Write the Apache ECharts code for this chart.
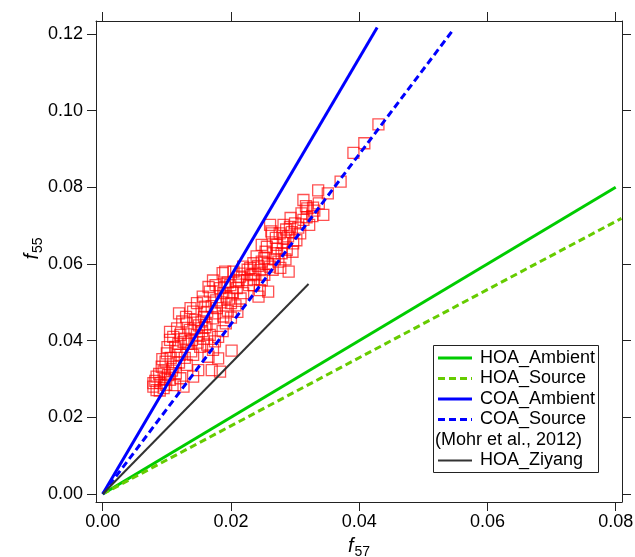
<!DOCTYPE html>
<html>
<head>
<meta charset="utf-8">
<title>f55 vs f57</title>
<script src="https://cdn.jsdelivr.net/npm/echarts@6/dist/echarts.min.js"></script>
<style>
    html, body { margin: 0; padding: 0; background: #fff; }
    #main { width: 635px; height: 557px; }
</style>
</head>
<body>
<div id="main"></div>
<script>
// ******************* data *******************
// measured points, [f57, f55]
var ziyangPoints = [
    [0.0430,0.0964],[0.0408,0.0915],[0.0391,0.0890],[0.0371,0.0815],[0.0336,0.0792],[0.0351,0.0784],
    [0.0313,0.0767],[0.0317,0.0751],[0.0328,0.0747],[0.0319,0.0745],[0.0330,0.0739],[0.0344,0.0728],
    [0.0310,0.0732],[0.0322,0.0702],[0.0313,0.0715],[0.0300,0.0706],[0.0282,0.0702],[0.0292,0.0697],
    [0.0295,0.0683],[0.0308,0.0680],[0.0276,0.0680],[0.0264,0.0680],[0.0283,0.0667],[0.0297,0.0654],
    [0.0271,0.0650],[0.0256,0.0645],[0.0248,0.0650],[0.0287,0.0637],[0.0279,0.0628],[0.0266,0.0628],
    [0.0248,0.0606],[0.0235,0.0602],[0.0230,0.0589],[0.0245,0.0584],[0.0261,0.0593],[0.0274,0.0606],
    [0.0290,0.0580],[0.0219,0.0593],[0.0204,0.0580],[0.0191,0.0580],[0.0214,0.0567],[0.0225,0.0558],
    [0.0232,0.0571],[0.0235,0.0545],[0.0248,0.0558],[0.0258,0.0528],[0.0245,0.0532],[0.0199,0.0545],
    [0.0209,0.0537],[0.0219,0.0524],[0.0188,0.0524],[0.0261,0.0702],
    [0.0172,0.0557],[0.0187,0.0576],[0.0183,0.0537],[0.0167,0.0528],[0.0193,0.0515],[0.0157,0.0502],
    [0.0160,0.0489],[0.0119,0.0471],[0.0141,0.0476],[0.0175,0.0471],[0.0188,0.0463],[0.0144,0.0454],
    [0.0154,0.0450],[0.0131,0.0445],[0.0136,0.0428],[0.0105,0.0423],[0.0121,0.0415],[0.0147,0.0415],
    [0.0167,0.0415],[0.0180,0.0410],[0.0105,0.0402],[0.0126,0.0397],[0.0113,0.0384],[0.0152,0.0384],
    [0.0172,0.0376],[0.0100,0.0367],[0.0121,0.0363],[0.0141,0.0363],[0.0165,0.0358],[0.0180,0.0354],
    [0.0092,0.0332],[0.0110,0.0332],[0.0131,0.0337],[0.0149,0.0323],[0.0170,0.0323],[0.0084,0.0306],
    [0.0102,0.0310],[0.0121,0.0302],[0.0141,0.0306],[0.0079,0.0280],[0.0095,0.0276],[0.0113,0.0284],
    [0.0183,0.0319],[0.0126,0.0280],
    [0.0263,0.0685],[0.0212,0.0558],[0.0195,0.0552],[0.0243,0.0515],[0.0200,0.0498],[0.0079,0.0289],
    [0.0084,0.0271],[0.0201,0.0374],
    [0.0098,0.0345],[0.0106,0.0355],[0.0115,0.0372],[0.0118,0.0392],[0.0128,0.0405],[0.0133,0.0392],
    [0.0139,0.0402],[0.0143,0.0432],[0.0150,0.0440],[0.0158,0.0462],[0.0163,0.0475],[0.0170,0.0490],
    [0.0177,0.0505],[0.0185,0.0500],[0.0178,0.0485],[0.0162,0.0442],[0.0155,0.0425],[0.0148,0.0395],
    [0.0138,0.0372],[0.0128,0.0355],[0.0119,0.0343],[0.0108,0.0322],[0.0097,0.0300],[0.0090,0.0290],
    [0.0088,0.0313],[0.0093,0.0352],[0.0101,0.0383],[0.0110,0.0410],[0.0116,0.0432],[0.0124,0.0450],
    [0.0130,0.0462],[0.0137,0.0485],[0.0147,0.0498],[0.0156,0.0515],[0.0165,0.0540],[0.0176,0.0545],
    [0.0190,0.0540],[0.0203,0.0525],[0.0197,0.0510],[0.0208,0.0555],[0.0217,0.0575],[0.0226,0.0585],
    [0.0238,0.0575],[0.0228,0.0545],[0.0215,0.0510],[0.0207,0.0492],[0.0195,0.0478],[0.0172,0.0458],
    [0.0160,0.0435],[0.0157,0.0405],[0.0163,0.0390],[0.0175,0.0398],[0.0187,0.0425],[0.0192,0.0445],
    [0.0200,0.0460],[0.0210,0.0475],
    [0.0240,0.0620],[0.0252,0.0615],[0.0258,0.0600],[0.0268,0.0612],[0.0272,0.0640],[0.0281,0.0655],
    [0.0289,0.0672],[0.0270,0.0668],[0.0254,0.0632],[0.0242,0.0595],[0.0236,0.0560],[0.0252,0.0572],
    [0.0265,0.0585],[0.0277,0.0590],[0.0285,0.0612],[0.0296,0.0632],[0.0302,0.0662],[0.0305,0.0695],
    [0.0318,0.0722],[0.0327,0.0725],[0.0337,0.0758],[0.0293,0.0720],[0.0286,0.0690],
    [0.0082,0.0295],[0.0089,0.0270],[0.0099,0.0285],[0.0105,0.0298],[0.0114,0.0315],[0.0095,0.0320]
];

// reference lines, end points from origin
var hoaAmbient = [[0, 0], [0.08, 0.080]];
var hoaSource  = [[0, 0], [0.0809, 0.0719]];
var coaAmbient = [[0, 0], [0.0428, 0.1217]];
var coaSource  = [[0, 0], [0.0547, 0.1212]];
var hoaZiyang  = [[0, 0], [0.0321, 0.0548]];

// ticks / labels
var xTicks = [0, 0.02, 0.04, 0.06, 0.08];
var yTicks = [0, 0.02, 0.04, 0.06, 0.08, 0.10, 0.12];

// legend rows
var legendNames = ['HOA_Ambient', 'HOA_Source', 'COA_Ambient', 'COA_Source', '(Mohr et al., 2012)', 'HOA_Ziyang'];

var FONT = "'Liberation Sans', Arial, sans-serif";
var AX = '#222';

var chart = echarts.init(document.getElementById('main'));

function fmt(v) { return v.toFixed(2); }

// helper for reference line series
function refLine(name, data, color, width, dash) {
    return {
        name: name,
        type: 'line',
        data: data,
        showSymbol: false,
        silent: true,
        z: 5,
        lineStyle: { color: color, width: width, type: dash ? [7, 4] : 'solid', cap: 'butt' }
    };
}

// legend drawn by hand (it has a text-only row)
var legendStyle = [
    { color: '#00cc00', dash: false, width: 3 },
    { color: '#66cc00', dash: true, width: 3 },
    { color: '#0000ff', dash: false, width: 3 },
    { color: '#0000ff', dash: true, width: 3 },
    null,
    { color: '#333333', dash: false, width: 2 }
];
var legendGraphic = [{
    type: 'rect',
    shape: { x: 433.5, y: 345.5, width: 165, height: 127 },
    style: { fill: '#fff', stroke: AX, lineWidth: 1 },
    z: 100
}];
for (var i = 0; i < legendNames.length; i++) {
    var yy = 358 + i * 20.5;
    var st = legendStyle[i];
    if (st) {
        legendGraphic.push({
            type: 'line',
            shape: { x1: 438, y1: yy, x2: 472, y2: yy },
            style: { stroke: st.color, lineWidth: st.width, lineDash: st.dash ? [7, 4] : null },
            z: 101
        });
    }
    legendGraphic.push({
        type: 'text',
        x: st ? 480 : 435,
        y: yy,
        style: { text: legendNames[i], font: '18px ' + FONT, fill: '#000', textVerticalAlign: 'middle' },
        z: 101
    });
}

// axis pieces shared by the four sides (they make the frame)
function frameAxis(pos, min, max, ticks, labels) {
    return {
        type: 'value', position: pos,
        min: min, max: max,
        axisLine: { show: true, onZero: false, lineStyle: { color: AX, width: 1 } },
        axisTick: { show: true, inside: false, length: 9, customValues: ticks, lineStyle: { color: AX, width: 1 } },
        splitLine: { show: false },
        axisLabel: labels ? {
            customValues: ticks, formatter: fmt, fontSize: 18, fontFamily: FONT, color: '#000',
            margin: (pos === 'left') ? 13 : 11
        } : { show: false }
    };
}

var nameRich = {
    f: { fontSize: 20, fontStyle: 'italic', fontFamily: FONT, color: '#000', lineHeight: 24 },
    s: { fontSize: 14, fontFamily: FONT, color: '#000', lineHeight: 14, padding: [12, 0, 0, 1] }
};

var xBottom = frameAxis('bottom', -0.001045, 0.080982, xTicks, true);
xBottom.name = '{f|f}{s|57}';
xBottom.nameLocation = 'middle';
xBottom.nameGap = 32;
xBottom.nameMoveOverlap = false;
xBottom.nameTextStyle = { rich: nameRich };

var yLeft = frameAxis('left', -0.002087, 0.123391, yTicks, true);
yLeft.name = '{f|f}{s|55}';
yLeft.nameLocation = 'middle';
yLeft.nameGap = 52;
yLeft.nameMoveOverlap = false;
yLeft.nameTextStyle = { rich: nameRich, padding: [0, 0, 0, 26] };

var option = {
    animation: false,
    backgroundColor: '#fff',
    grid: { left: 96, right: 13, top: 21, bottom: 55, containLabel: false, outerBoundsMode: 'none' },
    xAxis: [xBottom, frameAxis('top', -0.001045, 0.080982, xTicks, false)],
    yAxis: [yLeft, frameAxis('right', -0.002087, 0.123391, yTicks, false)],
    graphic: legendGraphic,
    series: [
        {
            name: 'Ziyang',
            type: 'scatter',
            data: ziyangPoints,
            symbol: 'rect',
            symbolSize: 11,
            z: 2,
            itemStyle: { color: 'rgba(255,255,255,0)', borderColor: 'rgba(255,0,0,0.85)', borderWidth: 1.3 }
        },
        refLine('HOA_Ambient', hoaAmbient, '#00cc00', 3, false),
        refLine('HOA_Source', hoaSource, '#66cc00', 3, true),
        refLine('COA_Ambient', coaAmbient, '#0000ff', 3, false),
        refLine('COA_Source', coaSource, '#0000ff', 3, true),
        refLine('HOA_Ziyang', hoaZiyang, '#333333', 2, false)
    ]
};

chart.setOption(option);
</script>
</body>
</html>
